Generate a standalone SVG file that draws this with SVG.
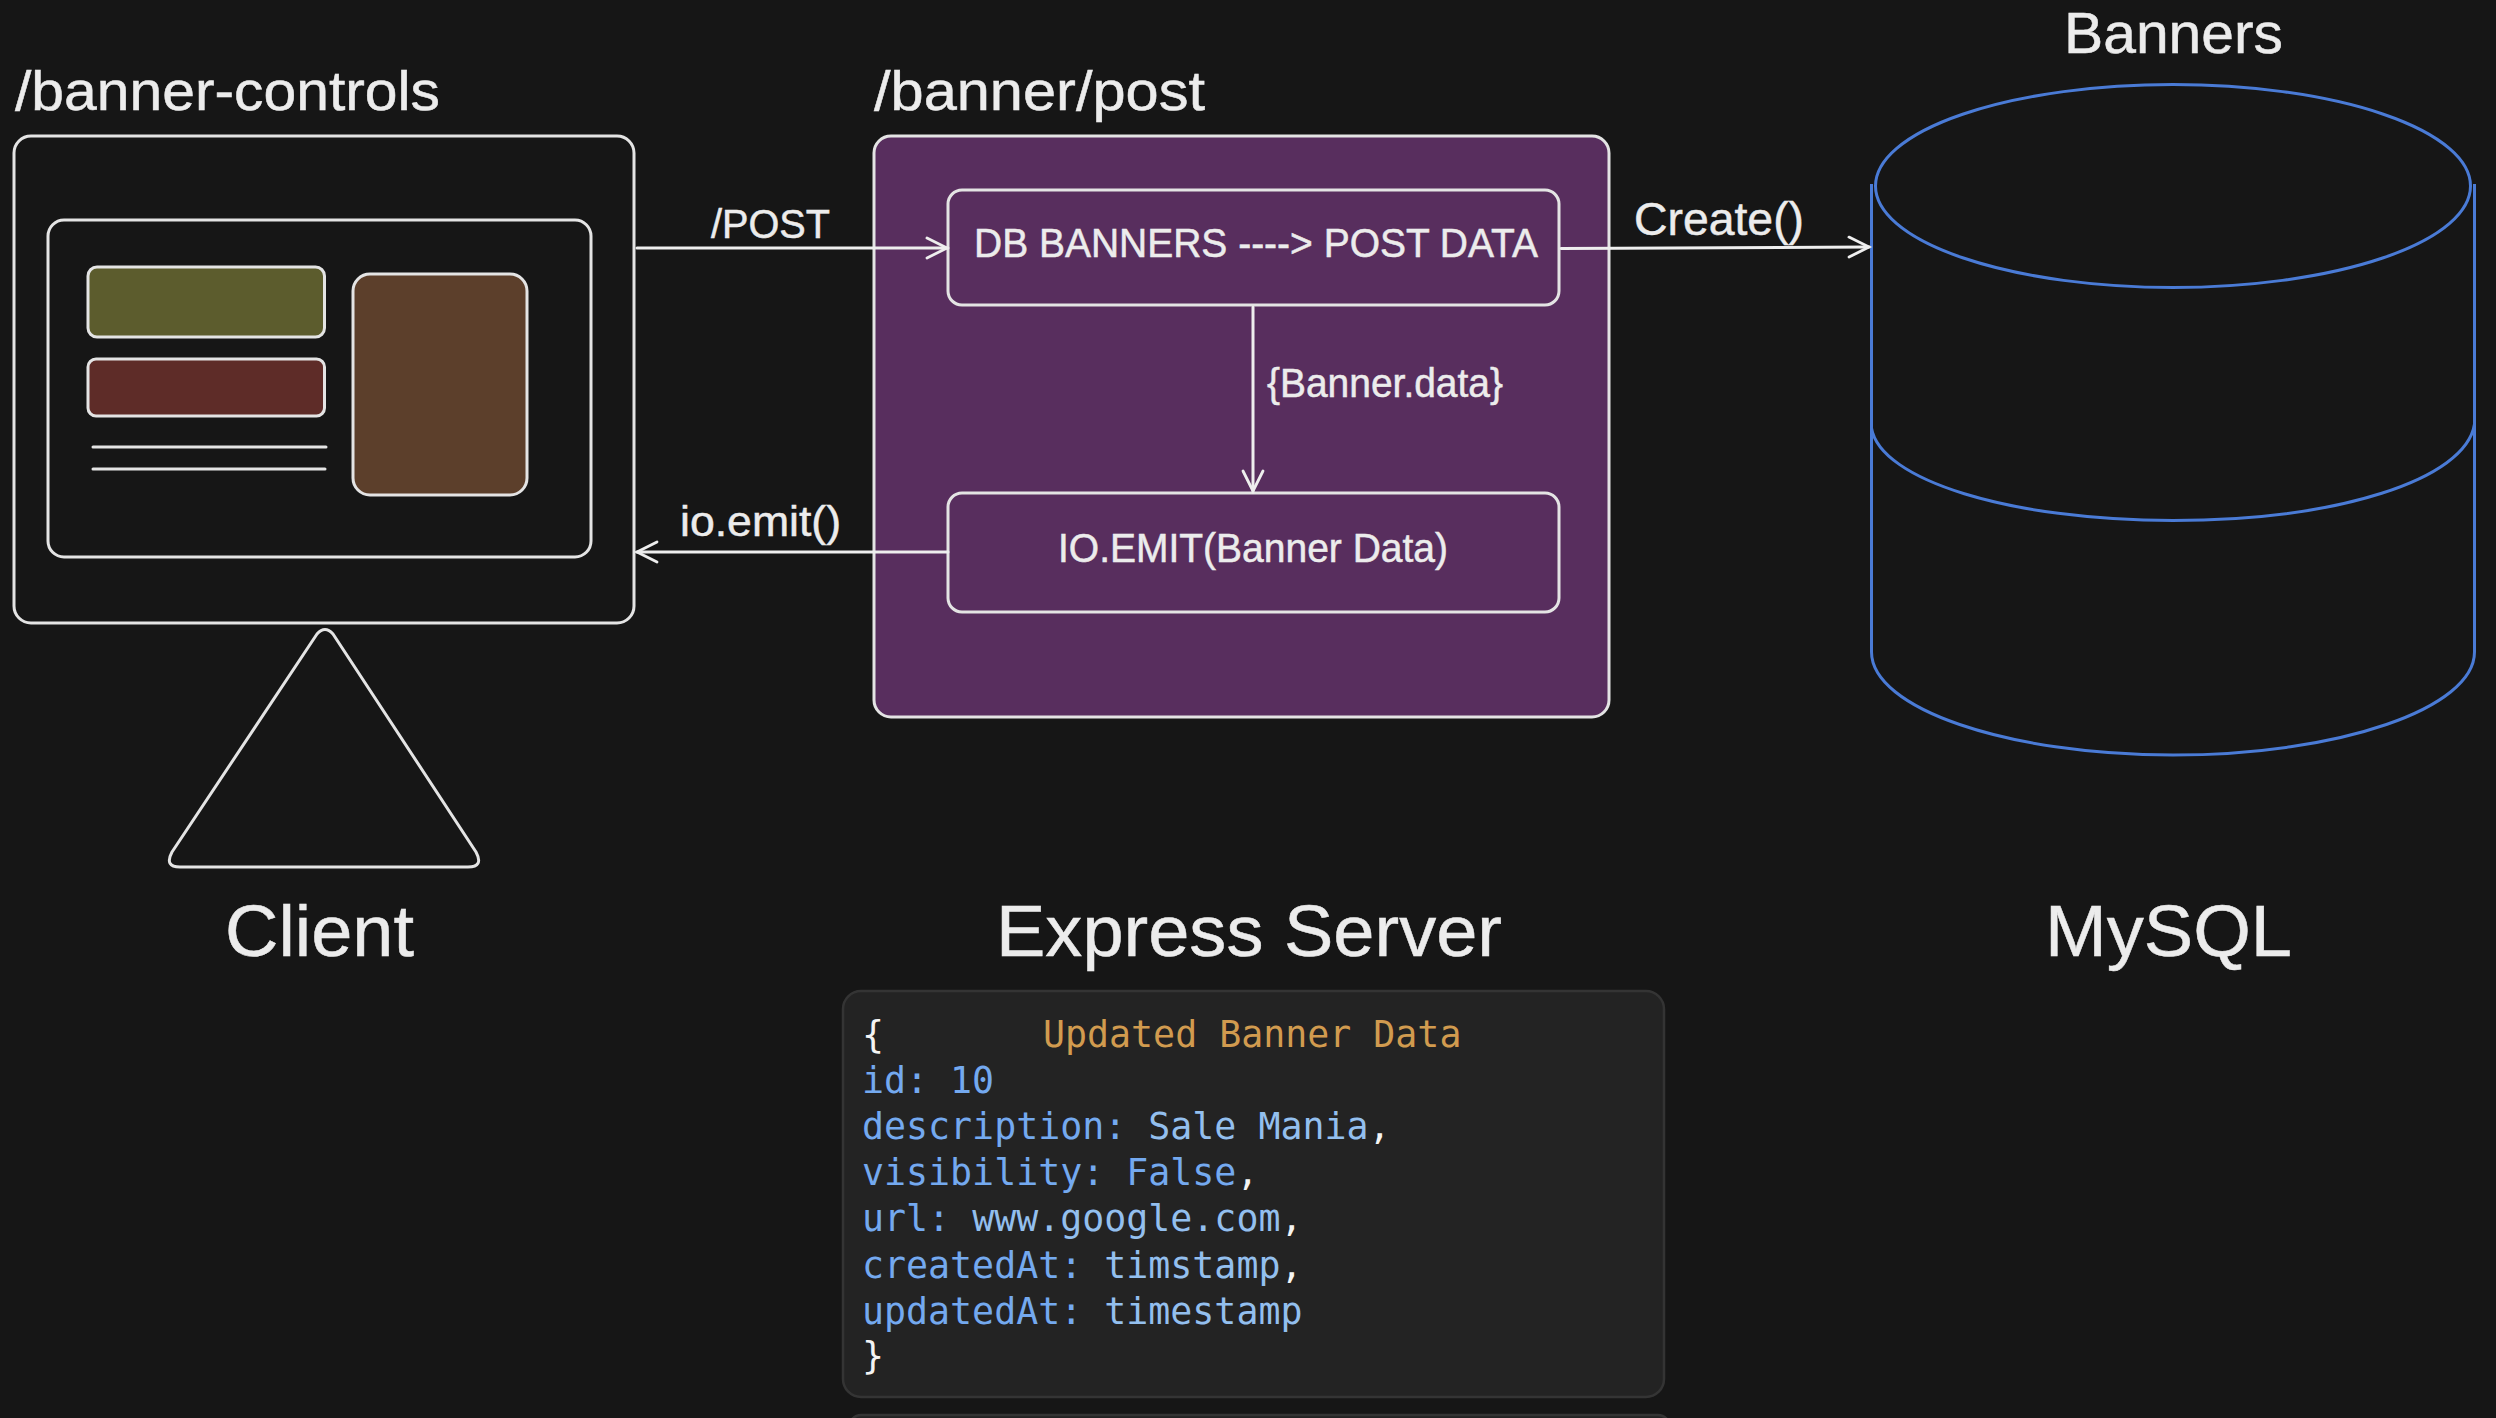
<svg xmlns="http://www.w3.org/2000/svg" width="2496" height="1418" viewBox="0 0 2496 1418">
<style>
.s{stroke:#e4e4e4;stroke-width:3;fill:none;stroke-linejoin:round;stroke-linecap:round}
.c{stroke:#eeeeee;stroke-width:3;fill:none;stroke-linecap:round;stroke-linejoin:round}
.db{stroke:#4a7bd6;stroke-width:3;fill:none}
.t{font-family:"Liberation Sans",Arial,sans-serif;fill:#ececec;stroke:#ececec;stroke-width:.5}
.m{font-family:"DejaVu Sans Mono","Liberation Mono",monospace;font-size:36.6px;white-space:pre}
.k{fill:#74a9ef}.v{fill:#93bfee}.w{fill:#f4f4f4}.o{fill:#d19b4f}
</style>
<defs>
<marker id="arr" markerUnits="userSpaceOnUse" markerWidth="28" markerHeight="28" refX="23" refY="14" orient="auto">
<path d="M3 4 L23 14 L3 24" fill="none" stroke="#eeeeee" stroke-width="2.800" stroke-linecap="round"/>
</marker>
</defs>
<rect width="2496" height="1418" fill="#161616"/>
<g id="labels">
<text class="t" x="15" y="110" font-size="55" textLength="425" lengthAdjust="spacingAndGlyphs">/banner-controls</text>
<text class="t" x="874" y="110" font-size="55" textLength="331" lengthAdjust="spacingAndGlyphs">/banner/post</text>
<text class="t" x="2064" y="53" font-size="58" textLength="219" lengthAdjust="spacingAndGlyphs">Banners</text>
<text class="t" x="225" y="956" font-size="73" textLength="189" lengthAdjust="spacingAndGlyphs">Client</text>
<text class="t" x="996" y="956" font-size="73" textLength="506" lengthAdjust="spacingAndGlyphs">Express Server</text>
<text class="t" x="2045" y="956" font-size="73" textLength="247" lengthAdjust="spacingAndGlyphs">MySQL</text>
</g>
<g id="client">
<rect class="s" x="14" y="136" width="620" height="487" rx="17"/>
<rect class="s" x="48" y="220" width="543" height="337" rx="16"/>
<rect class="s" x="88" y="267" width="236.500" height="70" rx="9" style="fill:#5c5c2d"/>
<rect class="s" x="88" y="359" width="236.500" height="57" rx="8" style="fill:#5e2c28"/>
<rect class="s" x="353" y="274" width="174" height="221" rx="17" style="fill:#5c3f2b"/>
<path class="s" d="M93 447H326M93 469H325"/>
<path class="s" d="M317 634 Q325 625 333 634 L476 852 Q484 867 468 867 H180 Q164 867 172 852 Z"/>
</g>
<g id="server">
<rect class="s" x="874" y="136" width="735" height="581" rx="17" style="fill:#582e5e"/>
</g>
<g id="db-banners">
<rect class="s" x="948" y="190" width="611" height="115" rx="14"/>
<text class="t" x="974" y="257" font-size="40" textLength="564" lengthAdjust="spacingAndGlyphs">DB BANNERS ----&gt; POST DATA</text>
</g>
<g id="io-emit">
<rect class="s" x="948" y="493" width="611" height="119" rx="14"/>
<text class="t" x="1058" y="562" font-size="40" textLength="390" lengthAdjust="spacingAndGlyphs">IO.EMIT(Banner Data)</text>
</g>
<g id="mysql">
<ellipse class="db" cx="2173" cy="186" rx="297.500" ry="101.500"/>
<path class="db" d="M1871.500 184V652C1871.500 708 2006 755 2173 755S2474.500 708 2474.500 652V184"/>
<path class="db" d="M1871.500 428C1880 480 2010 520.500 2173 520.500S2466 480 2474.500 424"/>
</g>
<g id="connectors">
<path class="c" d="M637 248H947" marker-end="url(#arr)"/>
<path class="c" d="M948 552H637" marker-end="url(#arr)"/>
<path class="c" d="M1561 248.500L1869 247" marker-end="url(#arr)"/>
<path class="c" d="M1253 307V491" marker-end="url(#arr)"/>
<text class="t" x="711" y="238" font-size="40" textLength="119" lengthAdjust="spacingAndGlyphs">/POST</text>
<text class="t" x="680" y="536" font-size="43" textLength="161" lengthAdjust="spacingAndGlyphs">io.emit()</text>
<text class="t" x="1267" y="397" font-size="40" textLength="236" lengthAdjust="spacingAndGlyphs">{Banner.data}</text>
<text class="t" x="1634" y="235" font-size="47" textLength="170" lengthAdjust="spacingAndGlyphs">Create()</text>
</g>
<g id="code-card">
<rect x="843" y="991" width="821" height="406" rx="18" fill="#232323" stroke="#343434" stroke-width="2.500"/>
<rect x="849" y="1415" width="821" height="40" rx="12" fill="#232323" stroke="#343434" stroke-width="2.500"/>
<text class="m w" x="862" y="1047">{</text>
<text class="m o" x="1043" y="1047">Updated Banner Data</text>
<text class="m" x="862" y="1093"><tspan class="k">id: 10</tspan></text>
<text class="m" x="862" y="1139"><tspan class="k">description: </tspan><tspan class="v">Sale Mania</tspan><tspan class="w">,</tspan></text>
<text class="m" x="862" y="1185"><tspan class="k">visibility: False</tspan><tspan class="w">,</tspan></text>
<text class="m" x="862" y="1231"><tspan class="k">url: </tspan><tspan class="v">www.google.com</tspan><tspan class="w">,</tspan></text>
<text class="m" x="862" y="1278"><tspan class="k">createdAt: </tspan><tspan class="v">timstamp</tspan><tspan class="w">,</tspan></text>
<text class="m" x="862" y="1324"><tspan class="k">updatedAt: </tspan><tspan class="v">timestamp</tspan></text>
<text class="m w" x="862" y="1368">}</text>
</g>
</svg>
